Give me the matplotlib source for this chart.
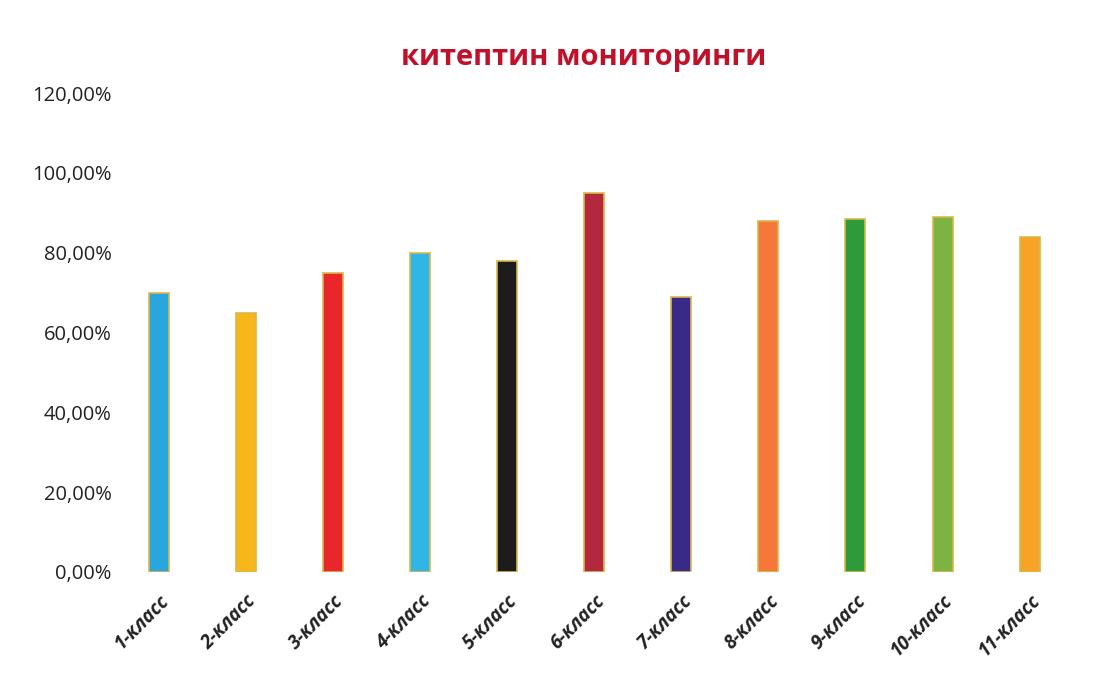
import matplotlib.pyplot as plt
from matplotlib.ticker import FuncFormatter

classes = ["1-класс", "2-класс", "3-класс", "4-класс", "5-класс", "6-класс",
           "7-класс", "8-класс", "9-класс", "10-класс", "11-класс"]
values = [0.70, 0.65, 0.75, 0.80, 0.78, 0.95, 0.69, 0.88, 0.885, 0.89, 0.84]
colors = ["#2aa6de", "#f7b619", "#e8262b", "#2fb6e6", "#1c1c1c", "#b3283c",
          "#3a2a88", "#f5773a", "#2e9a3a", "#7cb342", "#f7a325"]

plt.rcParams['font.family'] = ['Open Sans', 'DejaVu Sans']

fig = plt.figure(figsize=(11.12, 6.8), dpi=100)
ax = fig.add_axes([0.104, 0.159, 0.861, 0.704])

x = range(len(classes))
ax.bar(x, values, width=0.23, color=colors, edgecolor="#d8b84a", linewidth=1.2)

ax.set_xlim(-0.5, len(classes) - 0.5)
ax.set_ylim(0, 1.2)
ax.set_yticks([0, 0.2, 0.4, 0.6, 0.8, 1.0, 1.2])
ax.yaxis.set_major_formatter(FuncFormatter(lambda v, p: f"{v*100:.2f}%".replace(".", ",")))
ax.set_xticks(list(x))
ax.set_xticklabels(classes, rotation=45, ha="right", rotation_mode="anchor",
                   fontstyle="italic", fontweight="bold", fontsize=13.5, color="#222222")
for lbl in ax.get_yticklabels():
    lbl.set_fontsize(14.5)
    lbl.set_color("#222222")

ax.tick_params(length=0)
ax.tick_params(axis="y", pad=3)
ax.tick_params(axis="x", pad=14)
for s in ax.spines.values():
    s.set_visible(False)

fig.text(0.525, 0.915, "китептин мониторинги", ha="center", va="center",
         fontsize=21, fontweight="bold", color="#c0102a")

fig.savefig("out.png", dpi=100, facecolor="white")
